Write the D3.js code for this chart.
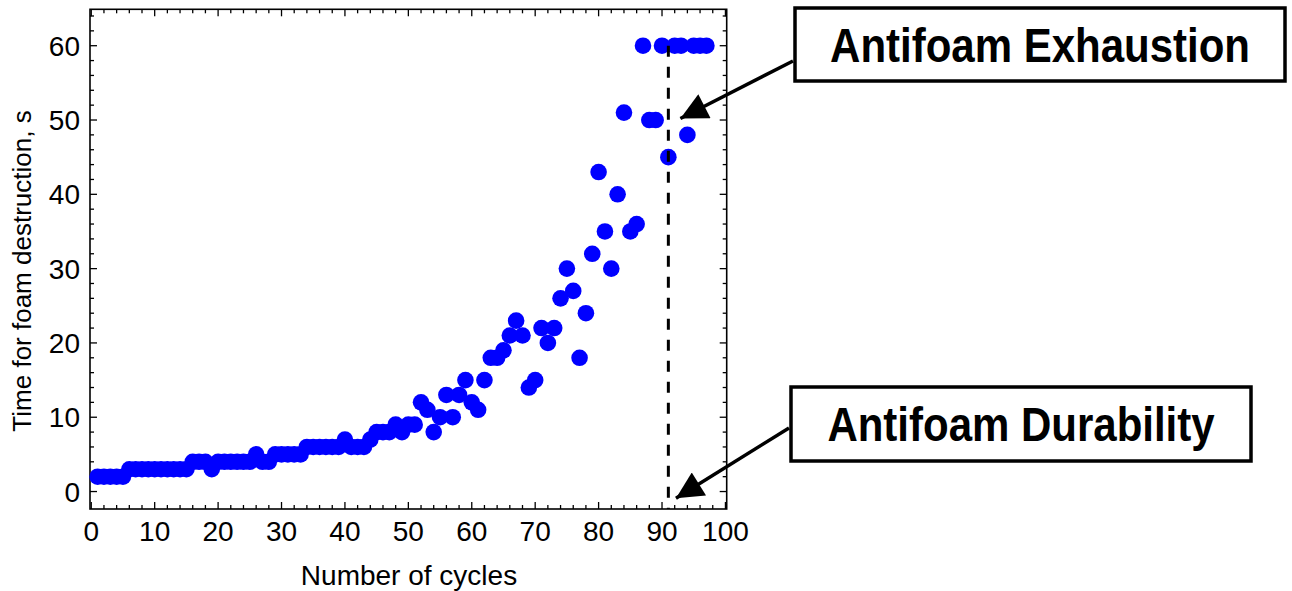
<!DOCTYPE html>
<html>
<head>
<meta charset="utf-8">
<script src="https://cdn.jsdelivr.net/npm/d3@7"></script>
<style>
  body { margin: 0; background: #fff; }
  svg { display: block; font-family: "Liberation Sans", Arial, sans-serif; }
</style>
</head>
<body>
<div id="chart"></div>
<script>
// cycle number and time for foam destruction (s)
const cycles = [
  1, 2, 3, 4, 5, 6, 7, 8, 9, 10, 11, 12, 13, 14, 15, 16, 17, 18, 19, 20,
  21, 22, 23, 24, 25, 26, 27, 28, 29, 30, 31, 32, 33, 34, 35, 36, 37, 38, 39, 40,
  41, 42, 43, 44, 45, 46, 47, 48, 49, 50, 51, 52, 53, 54, 55, 56, 57, 58, 59, 60,
  61, 62, 63, 64, 65, 66, 67, 68, 69, 70, 71, 72, 73, 74, 75, 76, 77, 78, 79, 80,
  81, 82, 83, 84, 85, 86, 87, 88, 89, 90, 91, 92, 93, 94, 95, 96, 97
];
const times = [
  2, 2, 2, 2, 2, 3, 3, 3, 3, 3, 3, 3, 3, 3, 3, 4, 4, 4, 3, 4,
  4, 4, 4, 4, 4, 5, 4, 4, 5, 5, 5, 5, 5, 6, 6, 6, 6, 6, 6, 7,
  6, 6, 6, 7, 8, 8, 8, 9, 8, 9, 9, 12, 11, 8, 10, 13, 10, 13, 15, 12,
  11, 15, 18, 18, 19, 21, 23, 21, 14, 15, 22, 20, 22, 26, 30, 27, 18, 24, 32, 43,
  35, 30, 40, 51, 35, 36, 60, 50, 50, 60, 45, 60, 60, 48, 60, 60, 60
];
const xTicks = [0, 10, 20, 30, 40, 50, 60, 70, 80, 90, 100];
const yTicks = [0, 10, 20, 30, 40, 50, 60];
const durabilityCycle = 91;
const notes = [
  { text: "Antifoam Exhaustion", box: [795, 8, 1285, 81], tip: [durabilityCycle + 1.9, 50.2], from: [793, 61] },
  { text: "Antifoam Durability", box: [791, 387, 1251, 461], tip: [durabilityCycle + 1.2, -0.9], from: [789, 428] }
];

const width = 1292, height = 591;
const svg = d3.select("#chart").append("svg").attr("width", width).attr("height", height);

const x = d3.scaleLinear().domain([-0.2, 100.2]).range([90, 726.7]);
const y = d3.scaleLinear().domain([-2.35, 64.9]).range([509, 9.3]);

const points = cycles.map((c, i) => ({ c: c, t: times[i] }));

// frame
svg.append("rect")
  .attr("x", x.range()[0]).attr("y", y.range()[1])
  .attr("width", x.range()[1] - x.range()[0]).attr("height", y.range()[0] - y.range()[1])
  .attr("fill", "none").attr("stroke", "#000").attr("stroke-width", 1.6);

// ticks on all four sides, pointing inward
const xMinor = d3.range(0, 101, 2), yMinor = d3.range(0, 65, 2);
function tickLen(v) { return v % 10 === 0 ? 7 : 4; }
const tg = svg.append("g").attr("stroke", "#000").attr("stroke-width", 1.3);
xMinor.forEach(v => {
  tg.append("line").attr("x1", x(v)).attr("x2", x(v)).attr("y1", y.range()[0]).attr("y2", y.range()[0] - tickLen(v));
  tg.append("line").attr("x1", x(v)).attr("x2", x(v)).attr("y1", y.range()[1]).attr("y2", y.range()[1] + tickLen(v));
});
yMinor.forEach(v => {
  tg.append("line").attr("y1", y(v)).attr("y2", y(v)).attr("x1", x.range()[0]).attr("x2", x.range()[0] + tickLen(v));
  tg.append("line").attr("y1", y(v)).attr("y2", y(v)).attr("x1", x.range()[1]).attr("x2", x.range()[1] - tickLen(v));
});

// tick labels
svg.append("g").selectAll("text").data(xTicks).enter().append("text")
  .attr("x", d => x(d)).attr("y", 541)
  .attr("text-anchor", "middle").attr("font-size", 28).attr("fill", "#000")
  .text(d => d);
svg.append("g").selectAll("text").data(yTicks).enter().append("text")
  .attr("x", 80).attr("y", d => y(d) + 10)
  .attr("text-anchor", "end").attr("font-size", 28).attr("fill", "#000")
  .text(d => d);

// axis titles
svg.append("text").attr("x", 409).attr("y", 585)
  .attr("text-anchor", "middle").attr("font-size", 28).text("Number of cycles");
svg.append("text").attr("transform", "translate(31,271) rotate(-90)")
  .attr("text-anchor", "middle").attr("font-size", 26).text("Time for foam destruction, s");

// points
svg.append("g").selectAll("circle").data(points).enter().append("circle")
  .attr("cx", d => x(d.c)).attr("cy", d => y(d.t)).attr("r", 8.3)
  .attr("fill", "#0000ff");

// durability line
svg.append("line")
  .attr("x1", x(durabilityCycle)).attr("x2", x(durabilityCycle))
  .attr("y1", y(60)).attr("y2", y.range()[0])
  .attr("stroke", "#000").attr("stroke-width", 3).attr("stroke-dasharray", "11,10");

// annotations
svg.append("defs").append("marker")
  .attr("id", "head").attr("viewBox", "0 0 10 10").attr("refX", 10).attr("refY", 5)
  .attr("markerUnits", "userSpaceOnUse").attr("markerWidth", 30).attr("markerHeight", 27)
  .attr("orient", "auto")
  .append("path").attr("d", "M0,0 L10,5 L0,10 z").attr("fill", "#000");

notes.forEach(n => {
  const [x0, y0, x1, y1] = n.box;
  svg.append("rect").attr("x", x0).attr("y", y0).attr("width", x1 - x0).attr("height", y1 - y0)
    .attr("fill", "#fff").attr("stroke", "#000").attr("stroke-width", 3.5);
  // tall, slightly condensed bold lettering
  svg.append("text")
    .attr("transform", `translate(${(x0 + x1) / 2},${(y0 + y1) / 2 + 17}) scale(1,1.16)`)
    .attr("text-anchor", "middle").attr("font-size", 42).attr("font-weight", "bold")
    .text(n.text);
  svg.append("line")
    .attr("x1", n.from[0]).attr("y1", n.from[1])
    .attr("x2", x(n.tip[0])).attr("y2", y(n.tip[1]))
    .attr("stroke", "#000").attr("stroke-width", 3.5)
    .attr("marker-end", "url(#head)");
});
</script>
</body>
</html>
